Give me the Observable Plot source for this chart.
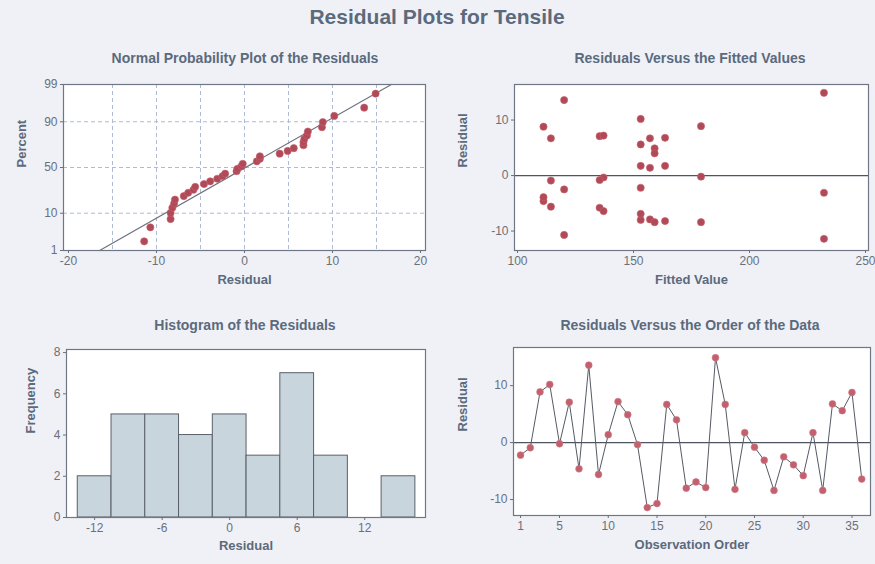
<!DOCTYPE html>
<html><head><meta charset="utf-8">
<script src="https://cdn.jsdelivr.net/npm/d3@7"></script>
<script src="https://cdn.jsdelivr.net/npm/@observablehq/plot@0.6"></script>
<style>
body{margin:0;background:#f0f1f7;}
#wrap{position:relative;width:875px;height:564px;overflow:hidden;font-family:"Liberation Sans",Arial,sans-serif;background:#f0f1f7;}
.ttl{position:absolute;white-space:nowrap;transform:translateX(-50%);font-weight:bold;color:#5b6a7c;}
.panel{position:absolute;}
.panel svg{background:transparent;overflow:visible;}
</style></head><body><div id="wrap"></div>
<script>
// ---- data ----
const observation = [1,2,3,4,5,6,7,8,9,10,11,12,13,14,15,16,17,18,19,20,21,22,23,24,25,26,27,28,29,30,31,32,33,34,35,36];
const residual = [-2.2,-0.9,8.9,10.2,-0.2,7.1,-4.6,13.6,-5.6,1.4,7.2,4.9,-0.35,-11.4,-10.7,6.7,4.0,-8.0,-6.9,-7.9,14.9,6.7,-8.2,1.75,-0.8,-3.1,-8.4,-2.5,-3.9,-5.8,1.75,-8.4,6.8,5.6,8.8,-6.4];
const fitted = [153.1,114.4,179.1,153.1,179.1,135.4,111.2,120.1,114.4,157.1,137.1,159.1,137.1,232.1,120.1,114.4,159.1,153.1,153.1,157.1,232.1,157.1,163.6,153.1,135.4,232.1,159.1,120.1,111.2,135.4,163.6,179.1,163.6,153.1,111.2,137.1];
const percentTicks = [1,10,50,90,99];
const residualGridTicks = [-15,-10,-5,0,5,10,15];
const residualTicks = [-20,-10,0,10,20];
const histTicks = [-12,-6,0,6,12];
const freqTicks = [0,2,4,6,8];
const fitTicks = [100,150,200,250];
const resTicks = [-10,0,10];
const orderTicks = [1,5,10,15,20,25,30,35];
const binEdges = [-13.5,-10.5,-7.5,-4.5,-1.5,1.5,4.5,7.5,10.5,13.5,16.5];

// ---- helpers ----
function invNorm(p){ // Acklam approximation of the inverse normal CDF
  const a=[-3.969683028665376e+01,2.209460984245205e+02,-2.759285104469687e+02,1.383577518672690e+02,-3.066479806614716e+01,2.506628277459239e+00];
  const b=[-5.447609879822406e+01,1.615858368580409e+02,-1.556989798598866e+02,6.680131188771972e+01,-1.328068155288572e+01];
  const c=[-7.784894002430293e-03,-3.223964580411365e-01,-2.400758277161838e+00,-2.549732539343734e+00,4.374664141464968e+00,2.938163982698783e+00];
  const d=[7.784695709041462e-03,3.224671290700398e-01,2.445134137142996e+00,3.754408661907416e+00];
  const pl=0.02425, ph=1-pl; let q,r;
  if(p<pl){q=Math.sqrt(-2*Math.log(p));return (((((c[0]*q+c[1])*q+c[2])*q+c[3])*q+c[4])*q+c[5])/((((d[0]*q+d[1])*q+d[2])*q+d[3])*q+1);}
  if(p<=ph){q=p-0.5;r=q*q;return (((((a[0]*r+a[1])*r+a[2])*r+a[3])*r+a[4])*r+a[5])*q/(((((b[0]*r+b[1])*r+b[2])*r+b[3])*r+b[4])*r+1);}
  q=Math.sqrt(-2*Math.log(1-p));return -(((((c[0]*q+c[1])*q+c[2])*q+c[3])*q+c[4])*q+c[5])/((((d[0]*q+d[1])*q+d[2])*q+d[3])*q+1);
}

const wrap = document.getElementById("wrap");
function addTitle(text, x, y, size){
  const d=document.createElement("div"); d.className="ttl"; d.textContent=text;
  d.style.left=x+"px"; d.style.top=y+"px"; d.style.fontSize=size+"px"; wrap.appendChild(d);
}
function addPanel(svg, left, top){
  const d=document.createElement("div"); d.className="panel"; d.style.left=left+"px"; d.style.top=top+"px";
  d.appendChild(svg); wrap.appendChild(d);
}

const INK="#5b6a7c", TICK="#6a7078", FRAME="#6f7784", DOT="#b04a58";
const fmt = d => String(d);
const base = {style:{fontFamily:"Liberation Sans, Arial, sans-serif", fontSize:"12px", color:TICK, background:"transparent"}};
const labelStyle = {fill:INK, fontWeight:"bold", fontSize:13};

// ---- Panel 1: normal probability plot ----
const n = residual.length;
const sorted = residual.slice().sort(d3.ascending);
const probData = sorted.map((r,i)=>({r, z: invNorm((i+1-0.3)/(n+0.4))}));
const mu = d3.mean(residual), sd = d3.deviation(residual);
const zLo = invNorm(0.01), zHi = invNorm(0.99);
const lineData = [zLo, zHi].map(z=>({z, r: mu+sd*z}));
const zTicks = percentTicks.map(p=>invNorm(p/100));

const p1 = Plot.plot({...base, width:440, height:260, marginLeft:63, marginRight:15, marginTop:44, marginBottom:50,
  x:{domain:[-20,20], insetLeft:5, insetRight:5},
  y:{domain:[zLo,zHi]},
  marks:[
    Plot.frame({fill:"white", stroke:null}),
    Plot.ruleX(residualGridTicks,{stroke:"#aebbd6", strokeDasharray:"4,3", strokeWidth:1}),
    Plot.ruleY(zTicks.slice(1,4),{stroke:"#aebbd6", strokeDasharray:"4,3", strokeWidth:1}),
    Plot.line(lineData,{x:"r", y:"z", stroke:"#6e7380", strokeWidth:1.2}),
    Plot.dot(probData,{x:"r", y:"z", r:3.6, fill:DOT, stroke:"#c8606c", strokeWidth:0.6}),
    Plot.frame({stroke:FRAME, strokeWidth:1.2}),
    Plot.axisX(residualTicks,{tickSize:3, tickPadding:3, tickFormat:fmt, label:null, color:TICK}),
    Plot.axisY(zTicks,{tickSize:3, tickPadding:3, tickFormat:(z,i)=>String(percentTicks[i]), label:null, color:TICK}),
    Plot.text(["Residual"],{frameAnchor:"bottom", dy:33, ...labelStyle}),
    Plot.text(["Percent"],{frameAnchor:"left", dx:-42, rotate:-90, ...labelStyle})
  ]});
addPanel(p1, 0, 40);

// ---- Panel 2: residuals vs fits ----
const fitData = residual.map((r,i)=>({r, f: fitted[i]}));
const p2 = Plot.plot({...base, width:435, height:260, marginLeft:74, marginRight:7, marginTop:44, marginBottom:50,
  x:{domain:[100,250], insetLeft:3, insetRight:3},
  y:{domain:[-13.5,16.4]},
  marks:[
    Plot.frame({fill:"white", stroke:null}),
    Plot.ruleY([0],{stroke:"#4d5563", strokeWidth:1.3}),
    Plot.dot(fitData,{x:"f", y:"r", r:3.6, fill:DOT, stroke:"#c8606c", strokeWidth:0.6}),
    Plot.frame({stroke:FRAME, strokeWidth:1.2}),
    Plot.axisX(fitTicks,{tickSize:3, tickPadding:3, tickFormat:fmt, label:null, color:TICK}),
    Plot.axisY(resTicks,{tickSize:3, tickPadding:3, tickFormat:fmt, label:null, color:TICK}),
    Plot.text(["Fitted Value"],{frameAnchor:"bottom", dy:33, ...labelStyle}),
    Plot.text(["Residual"],{frameAnchor:"left", dx:-52, rotate:-90, ...labelStyle})
  ]});
addPanel(p2, 440, 40);

// ---- Panel 3: histogram ----
const histData = residual.map(r=>({r}));
const p3 = Plot.plot({...base, width:440, height:264, marginLeft:66, marginRight:15, marginTop:49, marginBottom:47,
  x:{domain:[-14.5,17.4]},
  y:{domain:[0,8.15]},
  marks:[
    Plot.frame({fill:"white", stroke:null}),
    Plot.rectY(histData, Plot.binX({y:"count"},{x:"r", thresholds:binEdges, fill:"#c9d5dd", stroke:"#5a606a", strokeWidth:1, inset:0})),
    Plot.frame({stroke:FRAME, strokeWidth:1.2}),
    Plot.axisX(histTicks,{tickSize:3, tickPadding:3, tickFormat:fmt, label:null, color:TICK}),
    Plot.axisY(freqTicks,{tickSize:3, tickPadding:3, tickFormat:fmt, label:null, color:TICK}),
    Plot.text(["Residual"],{frameAnchor:"bottom", dy:32, ...labelStyle}),
    Plot.text(["Frequency"],{frameAnchor:"left", dx:-36, rotate:-90, ...labelStyle})
  ]});
addPanel(p3, 0, 300);

// ---- Panel 4: residuals vs order ----
const orderData = residual.map((r,i)=>({r, o: observation[i]}));
const p4 = Plot.plot({...base, width:435, height:264, marginLeft:73, marginRight:5, marginTop:47, marginBottom:49,
  x:{domain:[0.28,36.9]},
  y:{domain:[-12.8,16.7]},
  marks:[
    Plot.frame({fill:"white", stroke:null}),
    Plot.ruleY([0],{stroke:"#4d5563", strokeWidth:1.3}),
    Plot.line(orderData,{x:"o", y:"r", stroke:"#555a64", strokeWidth:1}),
    Plot.dot(orderData,{x:"o", y:"r", r:3.4, fill:"#c2606e", stroke:"#d07884", strokeWidth:0.6}),
    Plot.frame({stroke:FRAME, strokeWidth:1.2}),
    Plot.axisX(orderTicks,{tickSize:3, tickPadding:3, tickFormat:fmt, label:null, color:TICK}),
    Plot.axisY(resTicks,{tickSize:3, tickPadding:3, tickFormat:fmt, label:null, color:TICK}),
    Plot.text(["Observation Order"],{frameAnchor:"bottom", dy:33, ...labelStyle}),
    Plot.text(["Residual"],{frameAnchor:"left", dx:-51, rotate:-90, ...labelStyle})
  ]});
addPanel(p4, 440, 300);

// ---- titles ----
addTitle("Residual Plots for Tensile", 437, 5, 21);
addTitle("Normal Probability Plot of the Residuals", 245, 50, 14);
addTitle("Residuals Versus the Fitted Values", 690, 50, 14);
addTitle("Histogram of the Residuals", 245, 317, 14);
addTitle("Residuals Versus the Order of the Data", 690, 317, 14);
</script></body></html>
